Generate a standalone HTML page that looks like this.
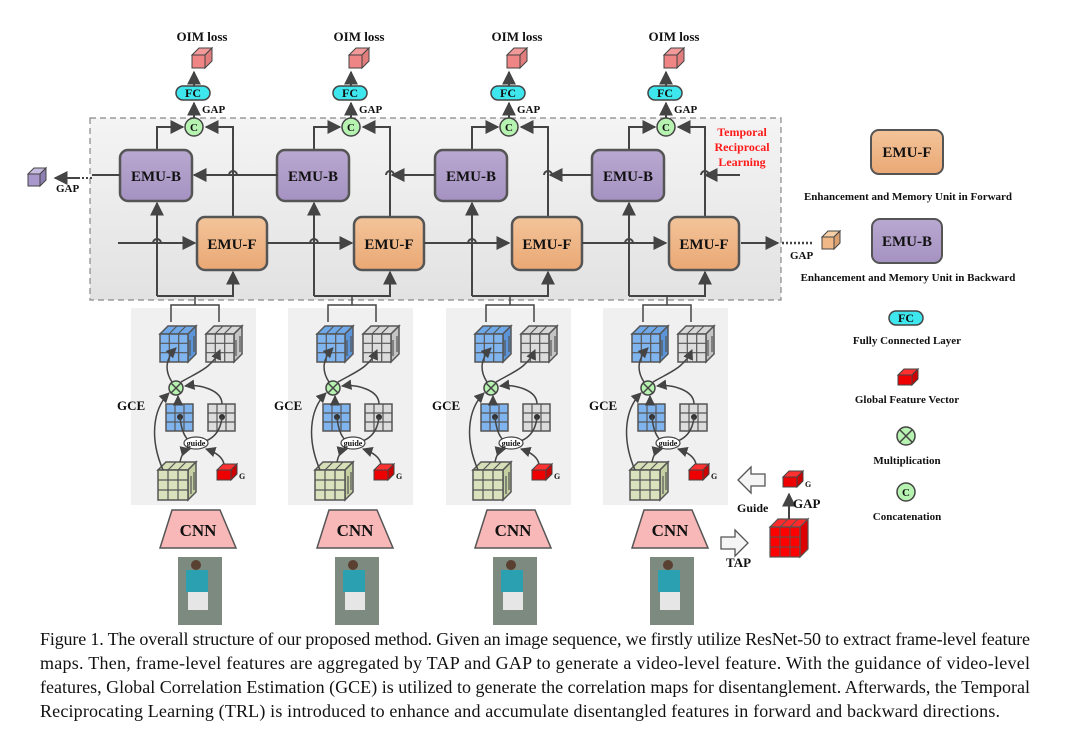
<!DOCTYPE html>
<html><head><meta charset="utf-8"><style>
html,body{margin:0;padding:0;background:#fff}
svg{display:block}
text{font-family:"Liberation Serif",serif;font-weight:bold;fill:#111}
</style></head><body>
<svg width="1070" height="729" viewBox="0 0 1070 729" xmlns="http://www.w3.org/2000/svg">
<defs>
<linearGradient id="bg" x1="0" y1="0" x2="0" y2="1"><stop offset="0" stop-color="#f4f4f4"/><stop offset="1" stop-color="#e2e2e2"/></linearGradient>
<linearGradient id="gf" x1="0" y1="0" x2="0" y2="1"><stop offset="0" stop-color="#f3c49a"/><stop offset="1" stop-color="#eaa874"/></linearGradient>
<linearGradient id="gb" x1="0" y1="0" x2="0" y2="1"><stop offset="0" stop-color="#b9a8d0"/><stop offset="1" stop-color="#a592c2"/></linearGradient>
<marker id="ah" viewBox="0 0 10 10" refX="9" refY="5" markerWidth="7" markerHeight="7" orient="auto-start-reverse"><path d="M0,0L10,5L0,10z" fill="#444"/></marker>
<g id="cubeB">
 <path d="M0,8 L8,0 L36,0 L28,8z" fill="#6fa8e8" stroke="#555" stroke-width="1.5"/>
 <path d="M28,8 L36,0 L36,28 L28,36z" fill="#5b94d8" stroke="#555" stroke-width="1.5"/>
 <rect x="0" y="8" width="28" height="28" fill="#7fb4ee" stroke="#555" stroke-width="1.5"/>
 <path d="M9.3,8V36M18.7,8V36M0,17.3H28M0,26.7H28M17,0L9,8M26,0L18,8M30,14V30M34,10V26" stroke="#555" stroke-width="1.2" fill="none"/>
</g>
<g id="cubeG">
 <path d="M0,8 L8,0 L36,0 L28,8z" fill="#d6d6d6" stroke="#555" stroke-width="1.5"/>
 <path d="M28,8 L36,0 L36,28 L28,36z" fill="#c4c4c4" stroke="#555" stroke-width="1.5"/>
 <rect x="0" y="8" width="28" height="28" fill="#dcdcdc" stroke="#555" stroke-width="1.5"/>
 <path d="M9.3,8V36M18.7,8V36M0,17.3H28M0,26.7H28M17,0L9,8M26,0L18,8M30,14V30M34,10V26" stroke="#555" stroke-width="1.2" fill="none"/>
</g>
<g id="cubeY">
 <path d="M0,8 L8,0 L38,0 L30,8z" fill="#d6dfb8" stroke="#555" stroke-width="1.5"/>
 <path d="M30,8 L38,0 L38,30 L30,38z" fill="#c4cfa2" stroke="#555" stroke-width="1.5"/>
 <rect x="0" y="8" width="30" height="30" fill="#d9e2bd" stroke="#555" stroke-width="1.5"/>
 <path d="M10,8V38M20,8V38M0,18H30M0,28H30M18,0L10,8M28,0L20,8M33,14V32M36,10V28" stroke="#555" stroke-width="1.2" fill="none"/>
</g>
<g id="redS">
 <path d="M0,6 L6,0 L20,0 L14,6z" fill="#ff3030" stroke="#444" stroke-width="1"/>
 <path d="M14,6 L20,0 L20,10 L14,16z" fill="#cc0000" stroke="#444" stroke-width="1"/>
 <rect x="0" y="6" width="14" height="10" fill="#ee0000" stroke="#444" stroke-width="1"/>
</g>
<g id="pinkS">
 <path d="M0,7 L7,0 L20,0 L13,7z" fill="#f29a9a" stroke="#444" stroke-width="1"/>
 <path d="M13,7 L20,0 L20,13 L13,20z" fill="#e27d7d" stroke="#444" stroke-width="1"/>
 <rect x="0" y="7" width="13" height="13" fill="#f08585" stroke="#444" stroke-width="1"/>
</g>
<g id="col">
 <rect x="131" y="308" width="125" height="197" fill="#f0f0f0"/>
 <use href="#pinkS" x="192" y="48"/>
 <rect x="176" y="86" width="34" height="14" rx="7" fill="#3ee6ee" stroke="#444" stroke-width="1.5"/>
 <path d="M194,86V72" stroke="#444" stroke-width="2" marker-end="url(#ah)"/>
 <path d="M194,118V103" stroke="#444" stroke-width="2" marker-end="url(#ah)"/>
 <circle cx="194" cy="127" r="9" fill="#b6f2b0" stroke="#444" stroke-width="1.5"/>
 <path d="M157,150V127H183" stroke="#444" stroke-width="2" fill="none" marker-end="url(#ah)"/>
 <path d="M233,217V127H206" stroke="#444" stroke-width="2" fill="none" marker-end="url(#ah)"/>
 <rect x="120" y="150" width="72" height="51" rx="8" fill="url(#gb)" stroke="#555" stroke-width="2.5"/>
 <rect x="197" y="217" width="70" height="53" rx="8" fill="url(#gf)" stroke="#555" stroke-width="2.5"/>
 <path d="M157,296V203" stroke="#444" stroke-width="2" marker-end="url(#ah)"/>
 <path d="M157,296H233V272" stroke="#444" stroke-width="2" fill="none" marker-end="url(#ah)"/>
 <path d="M195,296V305M171,322V305H219V322" stroke="#444" stroke-width="1.5" fill="none"/>
 <use href="#cubeB" x="160" y="326"/>
 <use href="#cubeG" x="206" y="326"/>
 <rect x="166" y="404" width="27" height="27" fill="#7fb4ee" stroke="#555" stroke-width="1.5"/>
 <path d="M175,404V431M184,404V431M166,413H193M166,422H193" stroke="#555" stroke-width="1.2"/>
 <rect x="208" y="404" width="27" height="27" fill="#dcdcdc" stroke="#555" stroke-width="1.5"/>
 <path d="M217,404V431M226,404V431M208,413H235M208,422H235" stroke="#555" stroke-width="1.2"/>
 <circle cx="180" cy="417" r="3" fill="#333"/><circle cx="222" cy="417" r="3" fill="#333"/>
 <path d="M180,417C182,438 190,442 192,442M222,417C220,438 205,442 200,442" stroke="#444" stroke-width="1.5" fill="none"/>
 <ellipse cx="196" cy="443" rx="12" ry="6" fill="#fff" stroke="#444" stroke-width="1.2"/>
 <use href="#cubeY" x="158" y="462"/>
 <use href="#redS" x="217" y="464"/>
 <path d="M180,462C182,452 186,450 190,449" stroke="#444" stroke-width="1.5" fill="none" marker-end="url(#ah)"/>
 <path d="M224,464C222,455 212,451 206,449" stroke="#444" stroke-width="1.5" fill="none" marker-end="url(#ah)"/>
 <circle cx="176" cy="388" r="7" fill="#b6f2b0" stroke="#444" stroke-width="1.5"/>
 <path d="M171,383L181,393M181,383L171,393" stroke="#444" stroke-width="1.5"/>
 <path d="M178,404V396" stroke="#444" stroke-width="1.5" marker-end="url(#ah)"/>
 <path d="M222,404C222,390 200,384 185,386" stroke="#444" stroke-width="1.5" fill="none" marker-end="url(#ah)"/>
 <path d="M163,470C150,440 152,410 169,393" stroke="#444" stroke-width="1.5" fill="none" marker-end="url(#ah)"/>
 <path d="M172,382C164,370 166,358 176,348" stroke="#444" stroke-width="1.5" fill="none" marker-end="url(#ah)"/>
 <path d="M181,382C198,372 212,368 220,350" stroke="#444" stroke-width="1.5" fill="none" marker-end="url(#ah)"/>
 <path d="M172,510H220L236,548H160z" fill="#f8b8b8" stroke="#555" stroke-width="1.5"/>
 <rect x="178" y="557" width="44" height="68" fill="#7d8a80"/>
 <rect x="186" y="570" width="22" height="22" fill="#2ba0b0"/>
 <rect x="188" y="592" width="20" height="18" fill="#e6e6e6"/>
 <circle cx="196" cy="565" r="5" fill="#5a4030"/>
</g>
</defs>

<rect x="90" y="118" width="691" height="182" fill="url(#bg)" stroke="#888" stroke-width="1.2" stroke-dasharray="6,4"/>

<use href="#col" x="0"/>
<use href="#col" x="157"/>
<use href="#col" x="315"/>
<use href="#col" x="472"/>

<g stroke="#444" stroke-width="2" fill="none">
 <path d="M740,175H705" marker-end="url(#ah)"/>
 <path d="M592,175H550" marker-end="url(#ah)"/>
 <path d="M435,175H392" marker-end="url(#ah)"/>
 <path d="M278,175H194" marker-end="url(#ah)"/>
 <path d="M120,175H92"/>
 <path d="M118,243H195" marker-end="url(#ah)"/>
 <path d="M267,243H352" marker-end="url(#ah)"/>
 <path d="M424,243H509" marker-end="url(#ah)"/>
 <path d="M582,243H666" marker-end="url(#ah)"/>
 <path d="M741,243H778" marker-end="url(#ah)"/>
</g>
<g fill="none" stroke="#444" stroke-width="2">
 <path d="M153,243a4,4 0 0 1 8,0"/><path d="M310,243a4,4 0 0 1 8,0"/><path d="M468,243a4,4 0 0 1 8,0"/><path d="M625,243a4,4 0 0 1 8,0"/>
</g>
<g fill="none" stroke="#444" stroke-width="2">
 <path d="M229,175a4,4 0 0 1 8,0"/><path d="M386,175a4,4 0 0 1 8,0"/><path d="M544,175a4,4 0 0 1 8,0"/><path d="M701,175a4,4 0 0 1 8,0"/>
</g>
<path d="M92,178H78" stroke="#444" stroke-width="2" stroke-dasharray="2,2"/>
<path d="M78,178H55" stroke="#444" stroke-width="2" marker-end="url(#ah)"/>
<g transform="translate(28,168)">
 <path d="M0,6 L6,0 L18,0 L12,6z" fill="#c7bde0" stroke="#444"/><path d="M12,6 L18,0 L18,12 L12,18z" fill="#8e7fb3" stroke="#444"/><rect x="0" y="6" width="12" height="12" fill="#a898cc" stroke="#444"/>
</g>
<text x="56" y="192" font-size="11">GAP</text>
<path d="M782,243H812" stroke="#444" stroke-width="2.5" stroke-dasharray="2,2"/>
<g transform="translate(822,231)">
 <path d="M0,6 L6,0 L18,0 L12,6z" fill="#f6cfa6" stroke="#444"/><path d="M12,6 L18,0 L18,12 L12,18z" fill="#dba070" stroke="#444"/><rect x="0" y="6" width="12" height="12" fill="#f1b887" stroke="#444"/>
</g>
<text x="790" y="259" font-size="11">GAP</text>

<g font-size="12" text-anchor="middle">
<text x="742" y="136" style="fill:#ff1a1a">Temporal</text>
<text x="742" y="151" style="fill:#ff1a1a">Reciprocal</text>
<text x="742" y="166" style="fill:#ff1a1a">Learning</text>
</g>

<g font-size="13" text-anchor="middle">
<text x="202" y="41">OIM loss</text><text x="359" y="41">OIM loss</text><text x="517" y="41">OIM loss</text><text x="674" y="41">OIM loss</text>
</g>
<g font-size="12" text-anchor="middle">
<text x="193" y="97">FC</text><text x="350" y="97">FC</text><text x="508" y="97">FC</text><text x="665" y="97">FC</text>
<text x="194" y="131" font-size="11">C</text><text x="351" y="131" font-size="11">C</text><text x="509" y="131" font-size="11">C</text><text x="666" y="131" font-size="11">C</text>
</g>
<g font-size="11">
<text x="202" y="113">GAP</text><text x="359" y="113">GAP</text><text x="517" y="113">GAP</text><text x="674" y="113">GAP</text>
</g>
<g font-size="15" text-anchor="middle">
<text x="156" y="181">EMU-B</text><text x="313" y="181">EMU-B</text><text x="471" y="181">EMU-B</text><text x="628" y="181">EMU-B</text>
<text x="232" y="249">EMU-F</text><text x="389" y="249">EMU-F</text><text x="547" y="249">EMU-F</text><text x="704" y="249">EMU-F</text>
</g>
<g font-size="13">
<text x="117" y="410">GCE</text><text x="274" y="410">GCE</text><text x="432" y="410">GCE</text><text x="589" y="410">GCE</text>
</g>
<g font-size="8" text-anchor="middle">
<text x="196" y="446">guide</text><text x="353" y="446">guide</text><text x="511" y="446">guide</text><text x="668" y="446">guide</text>
</g>
<g font-size="8">
<text x="239" y="479">G</text><text x="396" y="479">G</text><text x="554" y="479">G</text><text x="711" y="479">G</text>
</g>
<g font-size="17" text-anchor="middle">
<text x="198" y="536">CNN</text><text x="355" y="536">CNN</text><text x="513" y="536">CNN</text><text x="670" y="536">CNN</text>
</g>

<path d="M738,480L751,467V474H765V486H751V493z" fill="#f5f5f5" stroke="#555" stroke-width="1.3"/>
<text x="737" y="512" font-size="12">Guide</text>
<path d="M721,537H735V530L748,543L735,556V549H721z" fill="#f5f5f5" stroke="#555" stroke-width="1.3"/>
<text x="726" y="567" font-size="13">TAP</text>
<g transform="translate(770,519)">
 <path d="M0,8 L8,0 L38,0 L30,8z" fill="#ff2a2a" stroke="#555" stroke-width="1.2"/>
 <path d="M30,8 L38,0 L38,30 L30,38z" fill="#d00" stroke="#555" stroke-width="1.2"/>
 <rect x="0" y="8" width="30" height="30" fill="#f00" stroke="#555" stroke-width="1.2"/>
 <path d="M10,8V38M20,8V38M0,18H30M0,28H30M18,0L10,8M28,0L20,8" stroke="#555" stroke-width="1"/>
</g>
<path d="M789,519V494" stroke="#444" stroke-width="2" marker-end="url(#ah)"/>
<use href="#redS" x="783" y="471"/>
<text x="805" y="487" font-size="8">G</text>
<text x="793" y="508" font-size="13">GAP</text>

<rect x="871" y="130" width="72" height="44" rx="8" fill="url(#gf)" stroke="#555" stroke-width="2"/>
<text x="907" y="157" font-size="15" text-anchor="middle">EMU-F</text>
<text x="908" y="200" font-size="11" text-anchor="middle">Enhancement and Memory Unit in Forward</text>
<rect x="872" y="219" width="70" height="44" rx="8" fill="url(#gb)" stroke="#555" stroke-width="2"/>
<text x="907" y="246" font-size="15" text-anchor="middle">EMU-B</text>
<text x="908" y="281" font-size="11" text-anchor="middle">Enhancement and Memory Unit in Backward</text>
<rect x="889" y="311" width="34" height="14" rx="7" fill="#3ee6ee" stroke="#444" stroke-width="1.5"/>
<text x="906" y="322" font-size="12" text-anchor="middle">FC</text>
<text x="907" y="344" font-size="11" text-anchor="middle">Fully Connected Layer</text>
<use href="#redS" x="898" y="369"/>
<text x="907" y="403" font-size="11" text-anchor="middle">Global Feature Vector</text>
<circle cx="906" cy="436" r="9" fill="#b6f2b0" stroke="#444" stroke-width="1.5"/>
<path d="M900,430L912,442M912,430L900,442" stroke="#444" stroke-width="1.5"/>
<text x="907" y="464" font-size="11" text-anchor="middle">Multiplication</text>
<circle cx="906" cy="492" r="9" fill="#b6f2b0" stroke="#444" stroke-width="1.5"/>
<text x="906" y="496" font-size="11" text-anchor="middle">C</text>
<text x="907" y="520" font-size="11" text-anchor="middle">Concatenation</text>

<g font-size="18">
<text x="40" y="645" style="font-weight:normal" textLength="990" lengthAdjust="spacing">Figure 1. The overall structure of our proposed method. Given an image sequence, we firstly utilize ResNet-50 to extract frame-level feature</text>
<text x="40" y="669" style="font-weight:normal" textLength="990" lengthAdjust="spacing">maps.  Then, frame-level features are aggregated by TAP and GAP to generate a video-level feature.  With the guidance of video-level</text>
<text x="40" y="693" style="font-weight:normal" textLength="990" lengthAdjust="spacing">features, Global Correlation Estimation (GCE) is utilized to generate the correlation maps for disentanglement. Afterwards, the Temporal</text>
<text x="40" y="717" style="font-weight:normal" textLength="960" lengthAdjust="spacing">Reciprocating Learning (TRL) is introduced to enhance and accumulate disentangled features in forward and backward directions.</text>
</g>
</svg>
</body></html>
